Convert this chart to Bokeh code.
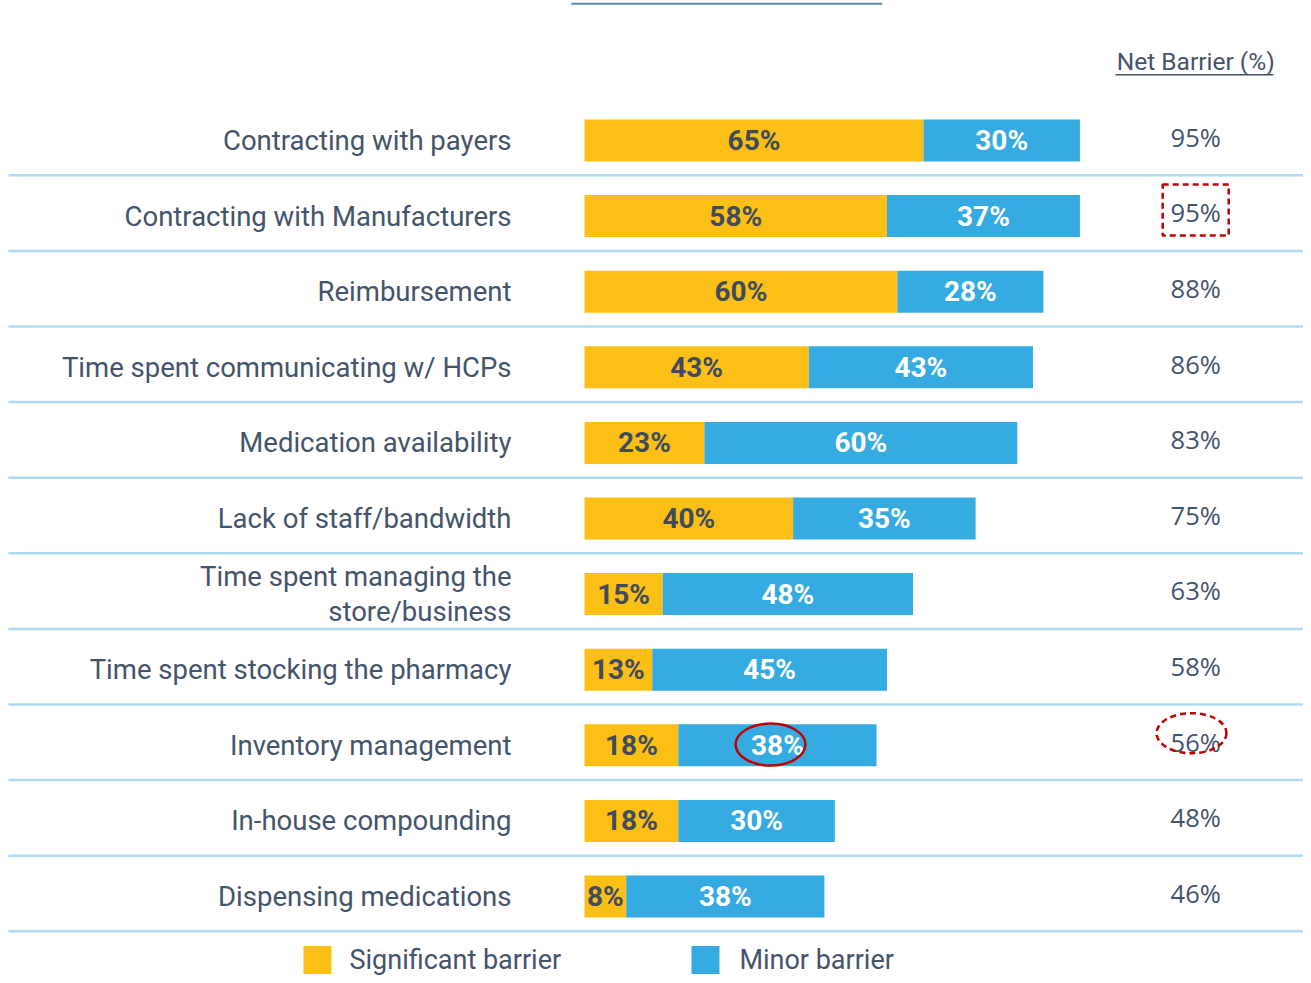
from bokeh.plotting import figure
from bokeh.models import Range1d, ColumnDataSource
from bokeh.core.properties import value
from bokeh.embed import file_html
from bokeh.resources import INLINE

categories = ["Contracting with payers", "Contracting with Manufacturers", "Reimbursement",
              "Time spent communicating w/ HCPs", "Medication availability",
              "Lack of staff/bandwidth", "Time spent managing the\nstore/business",
              "Time spent stocking the pharmacy", "Inventory management",
              "In-house compounding", "Dispensing medications"]
significant = [65, 58, 60, 43, 23, 40, 15, 13, 18, 18, 8]
minor = [30, 37, 28, 43, 60, 35, 48, 45, 38, 30, 38]
net_barrier = [95, 95, 88, 86, 83, 75, 63, 58, 56, 48, 46]
series_names = ["Significant barrier", "Minor barrier"]

YEL = "#FBBF15"
BLU = "#35ABE1"
TXT = "#44546A"
SEP = "#ADDCF2"
RED = "#C00000"

n = len(categories)
ys = list(range(n))
bar_h = 0.556

p = figure(width=1303, height=975, output_backend="svg", toolbar_location=None,
           x_range=Range1d(-111.98, 137.87), y_range=Range1d(11.045, -1.852),
           min_border=0)
p.axis.visible = False
p.grid.visible = False
p.outline_line_color = None
p.background_fill_color = "white"

# separators
for y in ys:
    p.segment(x0=-110.45, x1=140, y0=y + 0.46, y1=y + 0.46, line_color=SEP, line_width=2.5)

# top line
p.segment(x0=-2.5, x1=57.1, y0=-1.81, y1=-1.81, line_color="#5A8BA3", line_width=2)

src = ColumnDataSource(dict(
    y=ys,
    sig_end=significant,
    tot=[s + m for s, m in zip(significant, minor)],
    sig_mid=[s / 2 for s in significant],
    min_mid=[s + m / 2 for s, m in zip(significant, minor)],
    sig_lbl=[f"{s}%" for s in significant],
    min_lbl=[f"{m}%" for m in minor],
    net_lbl=[f"{v}%" for v in net_barrier],
    cat=categories,
    net_x=[117.2] * n,
    cat_x=[-14.0] * n,
    net_y=[y - 0.05 for y in ys],
))

p.hbar(y="y", left=0, right="sig_end", height=bar_h, source=src, fill_color=YEL, line_color=None)
p.hbar(y="y", left="sig_end", right="tot", height=bar_h, source=src, fill_color=BLU, line_color=None)

p.text(x="sig_mid", y="y", text="sig_lbl", source=src, text_align="center", text_baseline="middle",
       text_font=value("Roboto"), text_font_style="bold", text_font_size="28px", text_color="#3F4C5E")
p.text(x="min_mid", y="y", text="min_lbl", source=src, text_align="center", text_baseline="middle",
       text_font=value("Roboto"), text_font_style="bold", text_font_size="28px", text_color="white")

p.text(x="cat_x", y="y", text="cat", source=src, text_align="right", text_baseline="middle",
       text_font=value("Roboto"), text_font_size="27.5px", text_color=TXT, text_line_height=1.05)

p.text(x="net_x", y="net_y", text="net_lbl", source=src, text_align="center", text_baseline="middle",
       text_font=value("Open Sans"), text_font_size="25.5px", text_color=TXT)

# header
p.text(x=[117.2], y=[-1.05], text=["Net Barrier (%)"], text_align="center", text_baseline="middle",
       text_font=value("Roboto"), text_font_size="24.5px", text_color=TXT)
p.segment(x0=101.8, x1=132.1, y0=-0.87, y1=-0.87, line_color=TXT, line_width=1.5)

# annotations
p.rect(x=[117.2], y=[0.92], width=12.66, height=0.675, fill_alpha=0, line_color=RED,
       line_width=2.5, line_dash="6 4")
p.ellipse(x=[35.67], y=[7.99], width=13.4, height=0.556, fill_alpha=0, line_color=RED, line_width=2.5)
p.ellipse(x=[116.4], y=[7.84], width=13.4, height=0.53, fill_alpha=0, line_color=RED,
          line_width=2.5, line_dash="6 4")

# legend
p.scatter(x=[-51.2, 23.2], y=[10.84, 10.84], marker="square", size=28,
          fill_color=[YEL, BLU], line_color=None)
p.text(x=[-45.06, 29.7], y=[10.84, 10.84], text=series_names, text_align="left", text_baseline="middle",
       text_font=value("Roboto"), text_font_size="27px", text_color=TXT)

open("out.html", "w").write(file_html(p, INLINE))
